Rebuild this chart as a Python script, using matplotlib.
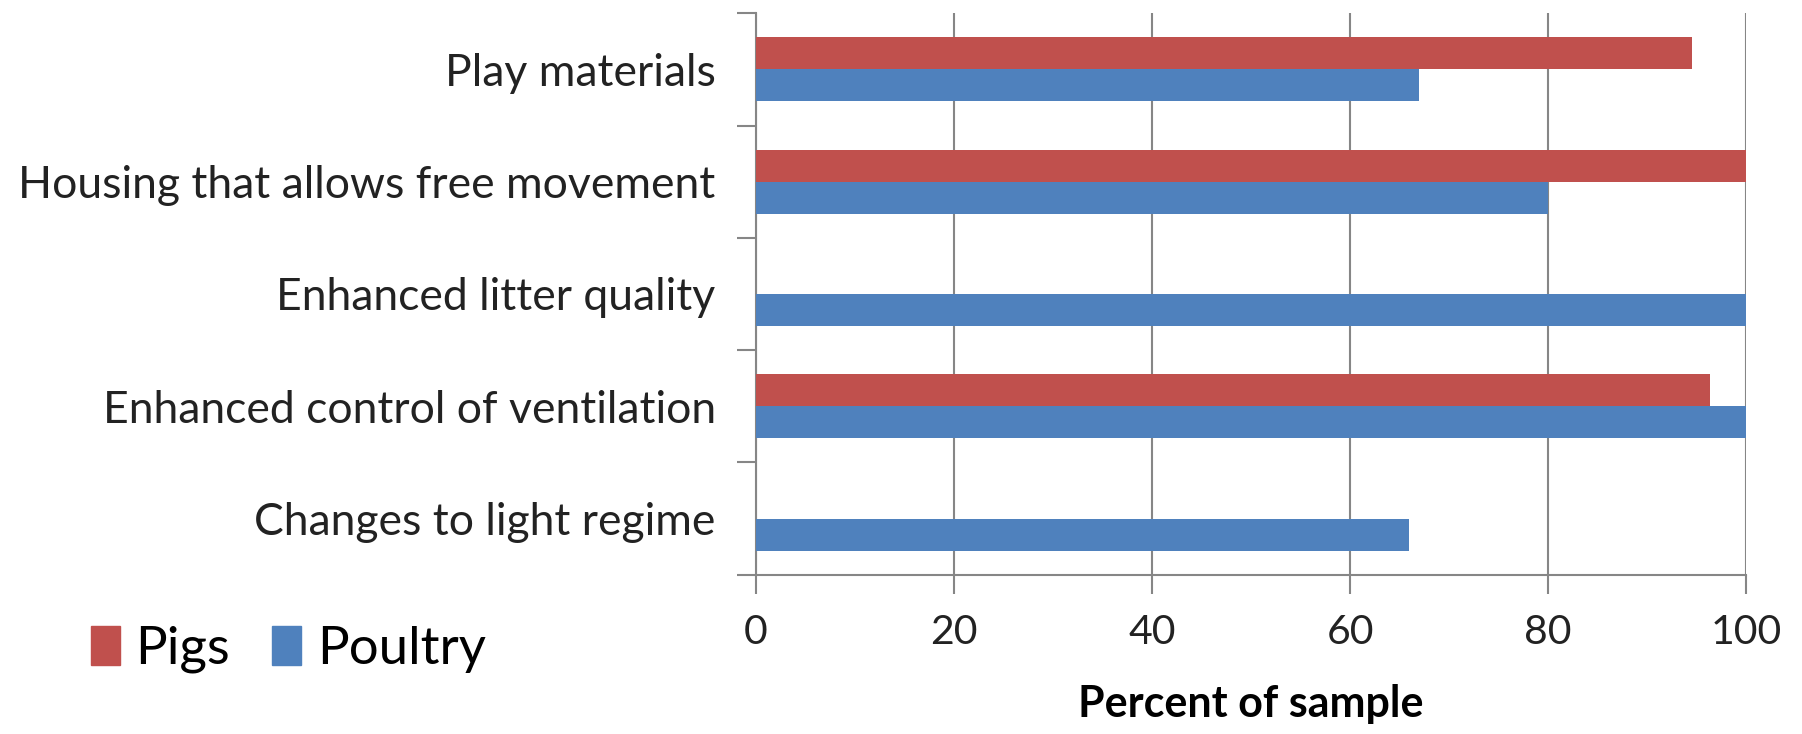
import numpy as np
import matplotlib.pyplot as plt
from matplotlib.patches import Patch

# dados
categorias = ["Play materials", "Housing that allows free movement",
              "Enhanced litter quality", "Enhanced control of ventilation",
              "Changes to light regime"]
pigs = [94.5, 100, 0, 96.3, 0]
poultry = [67, 80, 100, 100, 66]
xticks = [0, 20, 40, 60, 80, 100]

cor_pigs = "#C0504D"
cor_poultry = "#4F81BD"
cinza = "#868686"

plt.rcParams['font.family'] = ['Lato', 'DejaVu Sans']

fig = plt.figure(figsize=(18.02, 7.34), dpi=100)
ax = fig.add_axes([0.4195, 0.217, 0.5495, 0.765])

n = len(categorias)
y = np.arange(n)[::-1]  # primeira categoria no topo
h = 0.285
ax.barh(y + h / 2, pigs, height=h, color=cor_pigs, zorder=3)
ax.barh(y - h / 2, poultry, height=h, color=cor_poultry, zorder=3)

ax.set_xlim(0, 100)
ax.set_ylim(-0.5, n - 0.5)
ax.set_xticks(xticks)
ax.set_xticklabels([str(v) for v in xticks], fontsize=29.5, color="#222222")
ax.set_yticks(y)
ax.set_yticklabels(categorias, fontsize=32, color="#222222")
ax.tick_params(axis='y', length=0, pad=29)
ax.set_yticks(np.arange(n + 1) - 0.5, minor=True)
ax.tick_params(axis='y', which='minor', length=14, width=1.5, color=cinza)
ax.tick_params(axis='x', length=14, width=1.5, color=cinza, pad=14)

ax.grid(axis='x', color=cinza, linewidth=1.5, zorder=0)
for s in ['top', 'right']:
    ax.spines[s].set_visible(False)
for s in ['left', 'bottom']:
    ax.spines[s].set_color(cinza)
    ax.spines[s].set_linewidth(1.5)

ax.set_xlabel("Percent of sample", fontsize=31, fontweight='bold', labelpad=24)

handles = [Patch(color=cor_pigs, label="Pigs"), Patch(color=cor_poultry, label="Poultry")]
fig.legend(handles=handles, loc='center left', bbox_to_anchor=(0.024, 0.115),
           ncol=2, frameon=False, fontsize=38, handlelength=0.55, handleheight=0.75,
           handletextpad=0.3, columnspacing=0.8)

fig.savefig("out.png", dpi=100)
